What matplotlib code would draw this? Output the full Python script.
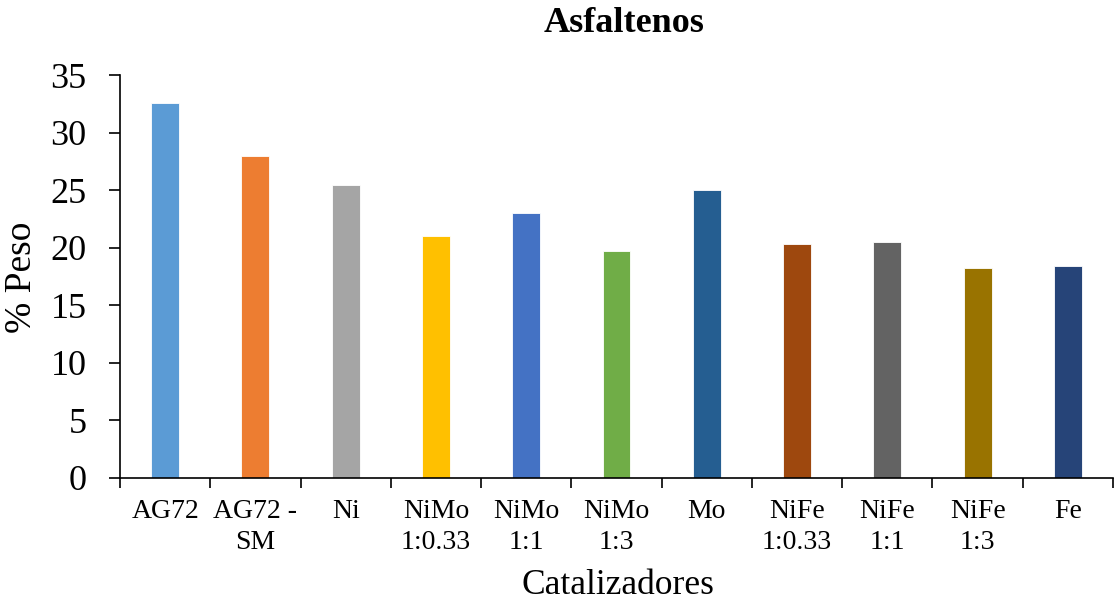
import matplotlib
matplotlib.use("Agg")
import matplotlib.pyplot as plt
import numpy as np

# Asphaltene content per catalyst
categories = ["AG72", "AG72 -\nSM", "Ni", "NiMo\n1:0.33", "NiMo\n1:1", "NiMo\n1:3",
              "Mo", "NiFe\n1:0.33", "NiFe\n1:1", "NiFe\n1:3", "Fe"]
values = [32.6, 28.0, 25.45, 21.0, 23.0, 19.7, 25.0, 20.35, 20.5, 18.25, 18.45]
colors = ["#5B9BD5", "#ED7D31", "#A5A5A5", "#FFC000", "#4472C4", "#70AD47",
          "#255E91", "#9E480E", "#636363", "#997300", "#264478"]
yticks = [0, 5, 10, 15, 20, 25, 30, 35]

plt.rcParams["font.family"] = ["Liberation Serif", "DejaVu Serif"]

W, H = 1117, 605
fig = plt.figure(figsize=(W / 100, H / 100), dpi=100)
left, right, bottom, top = 120, 1113, 478, 75
ax = fig.add_axes([left / W, 1 - bottom / H, (right - left) / W, (bottom - top) / H])

x = np.arange(len(categories))
ax.bar(x, values, width=0.31, color=colors, edgecolor="white", linewidth=0.6)

ax.set_xlim(-0.5, len(categories) - 0.5)
ax.set_ylim(0, 35)
ax.set_yticks(yticks)
ax.set_yticklabels([str(t) for t in yticks], fontsize=26)

ax.set_xticks(x)
ax.set_xticklabels(categories, fontsize=20, linespacing=1.35)
ax.set_xticks(np.arange(-0.5, len(categories), 1.0), minor=True)
ax.tick_params(axis="x", which="major", length=0, pad=15)
ax.tick_params(axis="x", which="minor", length=7, width=1.2, direction="out")
ax.tick_params(axis="y", which="major", length=8, width=1.2, direction="out", pad=16)

for s in ("top", "right"):
    ax.spines[s].set_visible(False)
for s in ("left", "bottom"):
    ax.spines[s].set_linewidth(1.2)
    ax.spines[s].set_color("black")

fig.text(618 / W, 1 - 586 / H, "Catalizadores", ha="center", va="center", fontsize=25.5)
fig.text(22 / W, 1 - 277 / H, "% Peso", ha="center", va="center", fontsize=27, rotation=90)
fig.text(624 / W, 1 - 23 / H, "Asfaltenos", ha="center", va="center", fontsize=26,
         fontweight="bold")

fig.savefig("out.png", dpi=100, facecolor="white")
